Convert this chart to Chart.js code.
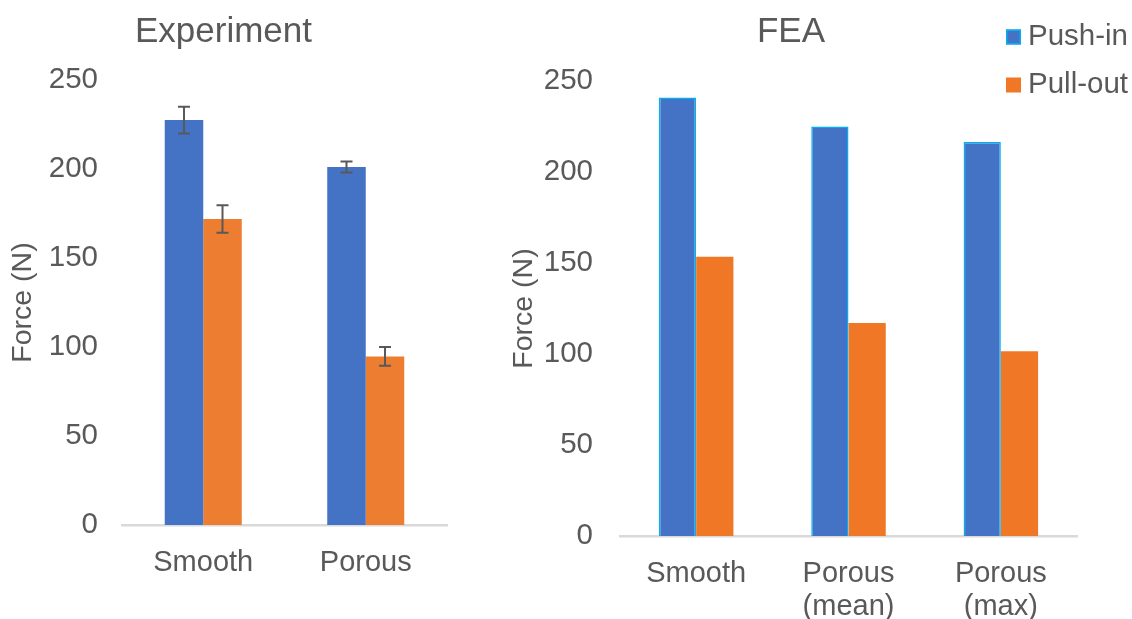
<!DOCTYPE html>
<html>
<head>
<meta charset="utf-8">
<script src="https://cdn.jsdelivr.net/npm/chart.js@4.4.1/dist/chart.umd.min.js"></script>
<style>
  html, body { margin: 0; padding: 0; background: #ffffff; overflow: hidden; width: 1132px; height: 619px; }
  .panel { position: absolute; top: 0; height: 619px; }
  #panelExp { left: 0; width: 451px; }
  #panelFea { left: 505px; width: 662px; }
</style>
</head>
<body>
<div class="panel" id="panelExp"><canvas id="expChart"></canvas></div>
<div class="panel" id="panelFea"><canvas id="feaChart"></canvas></div>
<script>
// Experimental peak forces (N) with standard deviations
const expCategories = ['Smooth', 'Porous'];
const expPushIn = [227.5, 201.1];
const expPullOut = [171.9, 94.7];
const expPushInErr = [7.5, 3.1];
const expPullOutErr = [7.7, 5.3];

// Finite element predictions (N)
const feaCategories = [['Smooth'], ['Porous', '(mean)'], ['Porous', '(max)']];
const feaPushIn = [241, 225, 216.5];
const feaPullOut = [153.5, 117, 101.5];

// Shared value axis
const yMin = 0;
const yMax = 250;
const yStep = 50;

const seriesNames = ['Push-in', 'Pull-out'];

const FONT = '"Liberation Sans", Arial, Helvetica, sans-serif';
const TEXT = '#595959';
const BLUE = '#4472C4';
const BLUE_EDGE = '#00B0F0';
const ORANGE = '#ED7D31';
const ORANGE_FEA = '#EF7725';
const AXIS_LINE = '#D9D9D9';

// Vertical error bars with caps, positioned from each bar element and the y scale
const errorBarPlugin = {
  id: 'errorBars',
  afterDatasetsDraw(chart, args, opts) {
    const ctx = chart.ctx;
    const yScale = chart.scales.y;
    chart.data.datasets.forEach((ds, di) => {
      if (!ds.errors) return;
      const meta = chart.getDatasetMeta(di);
      meta.data.forEach((bar, i) => {
        const v = ds.data[i];
        const e = ds.errors[i];
        const yTop = yScale.getPixelForValue(v + e);
        const yBot = yScale.getPixelForValue(v - e);
        const half = opts.capWidth / 2;
        ctx.save();
        ctx.strokeStyle = opts.color;
        ctx.lineWidth = opts.lineWidth;
        ctx.beginPath();
        ctx.moveTo(bar.x, yTop);
        ctx.lineTo(bar.x, yBot);
        ctx.moveTo(bar.x - half, yTop);
        ctx.lineTo(bar.x + half, yTop);
        ctx.moveTo(bar.x - half, yBot);
        ctx.lineTo(bar.x + half, yBot);
        ctx.stroke();
        ctx.restore();
      });
    });
  }
};

// Stacked legend with square swatches, drawn over the top-right corner of the chart
const squareLegendPlugin = {
  id: 'squareLegend',
  afterDraw(chart, args, opts) {
    const ctx = chart.ctx;
    ctx.save();
    ctx.font = `${opts.fontSize}px ${FONT}`;
    ctx.textBaseline = 'middle';
    ctx.textAlign = 'left';
    chart.data.datasets.forEach((ds, i) => {
      const cy = opts.top + i * opts.rowGap;
      const s = opts.box;
      ctx.fillStyle = ds.backgroundColor;
      ctx.fillRect(opts.left, cy - s / 2, s, s);
      if (ds.borderWidth) {
        ctx.strokeStyle = ds.borderColor;
        ctx.lineWidth = 1.5;
        ctx.strokeRect(opts.left + 0.75, cy - s / 2 + 0.75, s - 1.5, s - 1.5);
      }
      ctx.fillStyle = TEXT;
      ctx.fillText(ds.label, opts.left + s + opts.gap, cy);
    });
    ctx.restore();
  }
};

function valueAxis(width, titlePadTop, tickPad) {
  return {
    min: yMin,
    max: yMax,
    ticks: {
      stepSize: yStep,
      padding: tickPad,
      color: TEXT,
      font: { family: FONT, size: 29.5 }
    },
    grid: { display: false, drawTicks: false },
    border: { display: false },
    title: {
      display: true,
      text: 'Force (N)',
      color: TEXT,
      font: { family: FONT, size: 28.5, lineHeight: 1.2 },
      padding: { top: titlePadTop, bottom: 0 }
    },
    afterFit(scale) { scale.width = width; }
  };
}

function categoryAxis(height) {
  return {
    ticks: {
      padding: 21,
      color: TEXT,
      maxRotation: 0,
      autoSkip: false,
      font: { family: FONT, size: 29, lineHeight: 1.15 }
    },
    grid: { display: false, drawTicks: false },
    border: { display: true, color: AXIS_LINE, width: 2.5 },
    afterFit(scale) { scale.height = height; }
  };
}

function titleOptions(text, padBottom) {
  return {
    display: true,
    text: text,
    color: TEXT,
    font: { family: FONT, size: 35, weight: 'normal', lineHeight: 1.2 },
    padding: { top: 11, bottom: padBottom }
  };
}

new Chart(document.getElementById('expChart'), {
  type: 'bar',
  data: {
    labels: expCategories,
    datasets: [
      { label: seriesNames[0], data: expPushIn, errors: expPushInErr, backgroundColor: BLUE,
        borderWidth: 0, barPercentage: 1.0, categoryPercentage: 0.474 },
      { label: seriesNames[1], data: expPullOut, errors: expPullOutErr, backgroundColor: ORANGE,
        borderWidth: 0, barPercentage: 1.0, categoryPercentage: 0.474 }
    ]
  },
  options: {
    responsive: true,
    maintainAspectRatio: false,
    animation: false,
    devicePixelRatio: 1,
    layout: { padding: { left: 0, right: 4, top: 0, bottom: 0 } },
    plugins: {
      legend: { display: false },
      tooltip: { enabled: false },
      title: titleOptions('Experiment', 27),
      errorBars: { color: '#595959', lineWidth: 2, capWidth: 12 }
    },
    scales: {
      x: categoryAxis(94),
      y: valueAxis(122, 6, 24)
    }
  },
  plugins: [errorBarPlugin]
});

new Chart(document.getElementById('feaChart'), {
  type: 'bar',
  data: {
    labels: feaCategories,
    datasets: [
      { label: seriesNames[0], data: feaPushIn, backgroundColor: BLUE, borderColor: BLUE_EDGE,
        borderWidth: 1.5, borderSkipped: 'start', barPercentage: 1.0, categoryPercentage: 0.489 },
      { label: seriesNames[1], data: feaPullOut, backgroundColor: ORANGE_FEA,
        borderWidth: 0, barPercentage: 1.0, categoryPercentage: 0.489 }
    ]
  },
  options: {
    responsive: true,
    maintainAspectRatio: false,
    animation: false,
    devicePixelRatio: 1,
    layout: { padding: { left: 0, right: 90, top: 0, bottom: 0 } },
    plugins: {
      legend: { display: false },
      tooltip: { enabled: false },
      title: titleOptions('FEA', 28),
      squareLegend: { left: 501, top: 37, rowGap: 48, box: 15, gap: 7, fontSize: 29.5 }
    },
    scales: {
      x: categoryAxis(83),
      y: valueAxis(115, 2, 27)
    }
  },
  plugins: [squareLegendPlugin]
});
</script>
</body>
</html>
